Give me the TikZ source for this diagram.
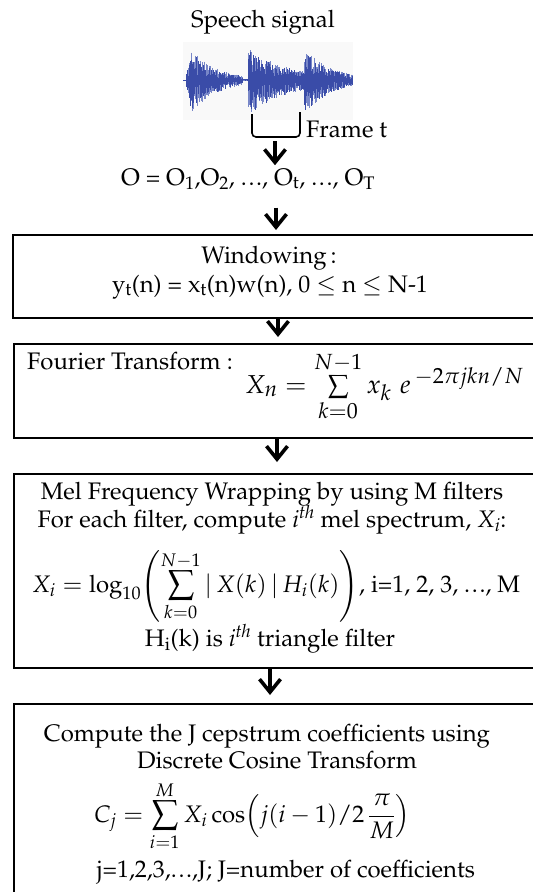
\documentclass[tikz,border=0pt]{standalone}
\usepackage[T1]{fontenc}
\usepackage{mathpazo}
\usetikzlibrary{arrows.meta}
\DeclareMathSizes{26}{26}{22}{17}
\definecolor{wavecol}{RGB}{58,76,168}
\definecolor{wavelight}{RGB}{120,135,200}
\newcommand\tdots{.\kern0.07em.\kern0.07em.}
\tikzset{
  stagebox/.style={draw=black, line width=2bp, anchor=north west, inner sep=0pt, minimum width=560bp},
  flow/.style={line width=3.6bp, -{Straight Barb[length=13bp,width=21bp]}},
  lbl/.style={anchor=base, inner sep=0pt, font=\fontsize{24}{28}\selectfont},
  wave/.style={draw=wavecol, line width=0.6bp},
  wavelt/.style={draw=wavelight, line width=0.5bp},
}
\begin{document}
\begin{tikzpicture}[x=1bp,y=-1bp]
\useasboundingbox (0,0) rectangle (533,892);
\clip (0,0) rectangle (533,892);
% ---- speech waveform ----
\fill[gray!5] (183,42) rectangle (353,120);
\draw[wave] (183,80) -- (353,80);
\pgfmathsetseed{11}
\foreach \x in {186,186.7,...,352}{
  \pgfmathsetmacro\a{ifthenelse(\x<190, 3+33*(\x-186)/4, ifthenelse(\x<242, 1+35*exp(-max(0,\x-190)/24), ifthenelse(\x<248, 1.0, ifthenelse(\x<304, 2+33*exp(-max(0,\x-249)/38), 1+33*exp(-max(0,\x-305)/26)))))}
  \draw[wavelt] (\x+0.35,{80-0.9*\a*(0.4+0.6*rnd)}) -- (\x+0.35,{80+\a*(0.5+0.5*rnd)});
  \draw[wave] (\x,{80-0.85*\a*(0.2+0.8*rnd)}) -- (\x,{80+\a*(0.2+0.8*rnd)});
}
% frame bracket
\draw[line width=1.6bp, rounded corners=4bp] (252,114) -- (252,137) -- (300,137) -- (300,112);
\coordinate (frb) at (275,141);
\node[lbl] (sp) at (263,27) {Speech signal};
\node[lbl, anchor=base west] (fr) at (306,137) {Frame t};
\node[lbl] (oseq) at (248,185) {O = O\textsubscript{1},O\textsubscript{2}, \tdots, O\textsubscript{t}, \tdots, O\textsubscript{T}};
% ---- boxes ----
\node[stagebox, minimum height=83bp] (win) at (12,234) {};
\node[stagebox, minimum height=94bp] (fft) at (13,343) {};
\node[stagebox, minimum height=194bp] (mel) at (13,473) {};
\node[stagebox, minimum height=230bp] (dct) at (13,703) {};
% ---- texts ----
\node[lbl] (w1) at (269,263) {Windowing\,:};
\node[lbl] (w2) at (270,292) {y\textsubscript{t}(n) = x\textsubscript{t}(n)w(n), 0 $\le$ n $\le$ N-1};
\node[lbl, anchor=base west] (ft) at (27,369) {Fourier Transform :};
\node[anchor=base west, inner sep=0pt, font=\fontsize{26}{30}\selectfont] (ftf) at (245,393) {$X_{n} = \sum\limits_{k=0}^{N-1} x_{k}\,\, e^{\,-2\pi jkn/N}$};
\node[lbl] (m1) at (272,499) {Mel Frequency Wrapping by using M filters};
\node[lbl] (m2) at (272,527) {For each filter, compute \textit{i}\textsuperscript{\textit{th}} mel spectrum, \textit{X}\textsubscript{\textit{i}}:};
\node[lbl] (m3) at (276,592) {$X_i = \log_{10}\!\left(\displaystyle\sum_{k=0}^{N-1} |\,X(k)\,|\,H_i(k)\right)$, i=1, 2, 3, \tdots, M};
\node[lbl] (m4) at (270,646) {H\textsubscript{i}(k) is \textit{i}\textsuperscript{\textit{th}} triangle filter};
\node[lbl] (d1) at (267,741) {Compute the J cepstrum coefficients using};
\node[lbl] (d2) at (277,768) {Discrete Cosine Transform};
\node[lbl] (d3) at (252,822) {$C_j = \displaystyle\sum_{i=1}^{M} X_i \cos\!\left( j(i-1)/2\,\frac{\pi}{M}\right)$};
\node[lbl] (d4) at (286,877) {j=1,2,3,\tdots,J; J=number of coefficients};
% ---- arrows ----
\coordinate (a2) at (276,0);
\coordinate (a3) at (278,0);
\coordinate (a4) at (277,0);
\coordinate (a5) at (270,0);
\draw[flow, shorten >=3bp] (frb) -- (oseq.north -| frb);
\draw[flow, shorten <=18bp, shorten >=4bp] (oseq.south -| a2) -- (win.north -| a2);
\draw[flow, shorten >=6bp] (win.south -| a3) -- (fft.north -| a3);
\draw[flow, shorten >=11bp] (fft.south -| a4) -- (mel.north -| a4);
\draw[flow, shorten >=8bp] (mel.south -| a5) -- (dct.north -| a5);
\end{tikzpicture}
\end{document}
